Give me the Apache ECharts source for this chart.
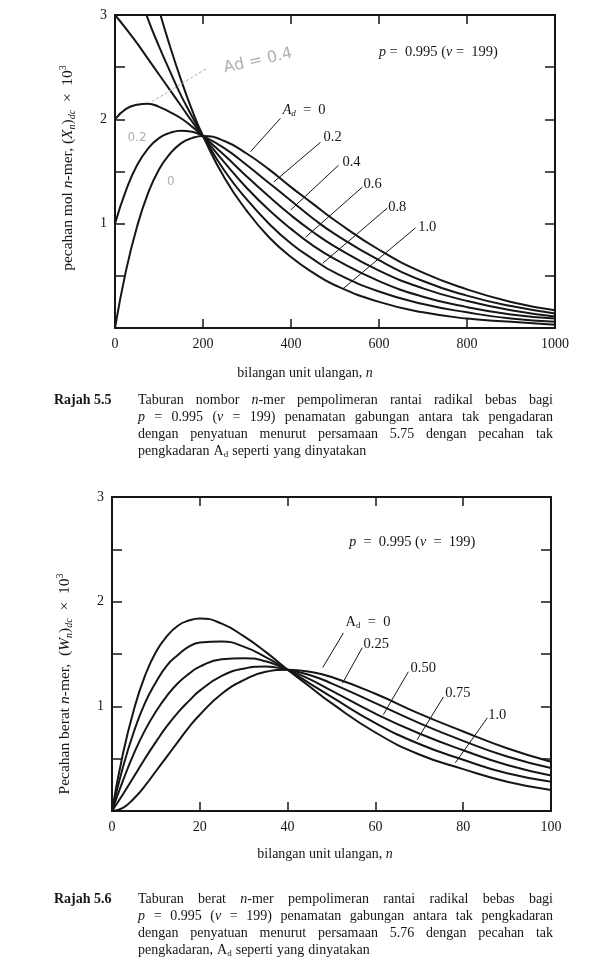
<!DOCTYPE html>
<html><head><meta charset="utf-8">
<script src="https://cdn.jsdelivr.net/npm/echarts@6/dist/echarts.min.js"></script>
<style>html,body{margin:0;padding:0;background:#fff}#c{width:600px;height:978px}</style>
</head><body><div id="c"></div>
<script>
// ---------- DATA ----------
// Rajah 5.5 : number fraction (X_n)dc x 10^3 vs n
const topN = [0,25,50,75,100,125,150,175,200,250,300,350,400,450,500,600,700,800,900,1000];
const topAd00 = [0,0.55,0.97,1.29,1.52,1.67,1.77,1.82,1.84,1.79,1.67,1.52,1.35,1.19,1.03,0.75,0.53,0.37,0.25,0.17];
const topAd02 = [1.00,1.32,1.56,1.72,1.82,1.87,1.89,1.88,1.84,1.72,1.56,1.39,1.22,1.05,0.90,0.65,0.45,0.31,0.21,0.14];
const topAd04 = [2.00,2.10,2.14,2.15,2.12,2.07,2.01,1.93,1.84,1.65,1.45,1.26,1.08,0.92,0.78,0.55,0.38,0.26,0.17,0.11];
const topAd06 = [3.00,2.87,2.73,2.58,2.43,2.28,2.13,1.98,1.84,1.58,1.34,1.13,0.95,0.79,0.66,0.45,0.30,0.20,0.13,0.09];
const topAd08 = [4.00,3.60,3.27,2.96,2.70,2.46,2.23,2.03,1.84,1.50,1.23,1.00,0.81,0.66,0.53,0.35,0.23,0.15,0.09,0.06];
const topAd10 = [5.00,4.41,3.89,3.44,3.05,2.70,2.38,2.09,1.84,1.43,1.12,0.87,0.68,0.53,0.41,0.25,0.15,0.09,0.06,0.03];
const topSeries = [topAd00, topAd02, topAd04, topAd06, topAd08, topAd10];
const topLabels = ['0', '0.2', '0.4', '0.6', '0.8', '1.0'];
const topYTicks = [1, 2, 3];

// Rajah 5.6 : weight fraction (W_n)dc x 10^3 vs n
const botX = [0,2.5,5,7.5,10,12.5,15,17.5,20,25,30,35,40,45,50,60,70,80,90,100];
const botAd000 = [0,0.03,0.12,0.24,0.38,0.52,0.66,0.80,0.92,1.12,1.25,1.33,1.35,1.33,1.28,1.12,0.93,0.76,0.60,0.47];
const botAd025 = [0,0.16,0.33,0.50,0.66,0.81,0.94,1.05,1.15,1.29,1.36,1.38,1.35,1.30,1.22,1.03,0.84,0.67,0.52,0.41];
const botAd050 = [0,0.29,0.55,0.77,0.95,1.10,1.22,1.31,1.38,1.45,1.46,1.43,1.35,1.26,1.15,0.93,0.74,0.58,0.44,0.34];
const botAd075 = [0,0.42,0.76,1.03,1.23,1.39,1.49,1.57,1.61,1.62,1.57,1.47,1.35,1.22,1.09,0.84,0.64,0.49,0.36,0.28];
const botAd100 = [0,0.55,0.97,1.29,1.52,1.67,1.77,1.82,1.84,1.79,1.67,1.52,1.35,1.19,1.03,0.75,0.54,0.40,0.28,0.20];
const botSeries = [botAd000, botAd025, botAd050, botAd075, botAd100];
const botLabels = ['0', '0.25', '0.50', '0.75', '1.0'];
const botYTicks = [1, 2, 3];

// annotation anchors in data units: [x1,y1,x2,y2] leader, [x,y] label
const topLeaders = [[308,1.69,376,2.01],[361,1.40,467,1.78],[399,1.13,508,1.56],[433,0.87,562,1.35],[472,0.62,619,1.15],[519,0.38,683,0.96]];
const topLabelAt = [[381,2.09],[474,1.83],[517,1.59],[565,1.38],[621,1.16],[689,0.97]];
const botLeaders = [[48.0,1.37,52.7,1.70],[52.5,1.22,57.0,1.56],[61.8,0.92,67.5,1.33],[69.5,0.68,75.5,1.09],[78.2,0.46,85.5,0.89]];
const botLabelAt = [[53.2,1.80],[57.3,1.59],[68.0,1.36],[75.9,1.13],[85.7,0.92]];

// ---------- STYLE ----------
const SERIF = '"Liberation Serif", "DejaVu Serif", serif';
const INK = '#161616';
const RICH = {
  i:   {fontStyle:'italic', fontFamily:SERIF, fontSize:14, fill:INK, lineHeight:18},
  sub: {fontFamily:SERIF, fontSize:9, fill:INK, verticalAlign:'bottom', lineHeight:18, padding:[0,0,1,0]},
  isub:{fontFamily:SERIF, fontStyle:'italic', fontSize:9, fill:INK, verticalAlign:'bottom', lineHeight:18, padding:[0,0,1,0]},
  sup: {fontFamily:SERIF, fontSize:9, fill:INK, verticalAlign:'top', lineHeight:18},
  b:   {fontFamily:SERIF, fontWeight:'bold', fontSize:14, fill:INK, lineHeight:18}
};
const RICH_BIG = {
  i:   {fontStyle:'italic', fontFamily:SERIF, fontSize:15.5, fill:INK, lineHeight:20},
  isub:{fontFamily:SERIF, fontStyle:'italic', fontSize:10, fill:INK, verticalAlign:'bottom', lineHeight:20, padding:[0,0,1,0]},
  sup: {fontFamily:SERIF, fontSize:10, fill:INK, verticalAlign:'top', lineHeight:20}
};
const BASE = {fontFamily:SERIF, fontSize:14, fontStyle:'normal', fontWeight:'normal'};

const chart = echarts.init(document.getElementById('c'), null, {renderer:'canvas'});

function xAxes(gi, max, interval) {
  const common = {
    type:'value', gridIndex:gi, min:0, max:max, interval:interval,
    axisLine:{show:true, onZero:false, lineStyle:{color:INK, width:2}},
    axisTick:{show:true, inside:true, length:9, lineStyle:{color:INK, width:1.5}},
    splitLine:{show:false}
  };
  return [
    Object.assign({}, common, {position:'bottom',
      axisLabel:{margin:9, color:INK, fontFamily:SERIF, fontSize:14, formatter: v => String(v)}}),
    Object.assign({}, common, {position:'top', axisLabel:{show:false}})
  ];
}
function yAxes(gi, ticks) {
  const common = {
    type:'value', gridIndex:gi, min:0, max:3, interval:0.5,
    axisLine:{show:true, onZero:false, lineStyle:{color:INK, width:2}},
    axisTick:{show:true, inside:true, length:10, lineStyle:{color:INK, width:1.5}},
    splitLine:{show:false}
  };
  return [
    Object.assign({}, common, {position:'left',
      axisLabel:{margin:8, color:INK, fontFamily:SERIF, fontSize:14,
        formatter: v => ticks.indexOf(v) >= 0 ? String(v) : ''}}),
    Object.assign({}, common, {position:'right', axisLabel:{show:false}})
  ];
}
function curves(arrs, xs, xi, yi, names) {
  return arrs.map((a, k) => ({
    type:'line', name:'Ad = ' + names[k], xAxisIndex:xi, yAxisIndex:yi,
    data: xs.map((x, i) => [x, a[i]]),
    symbol:'none', smooth:0.5, clip:true,
    lineStyle:{color:INK, width:2}, silent:true
  }));
}

const xa = xAxes(0, 1000, 200).concat(xAxes(1, 100, 20));
const ya = yAxes(0, topYTicks).concat(yAxes(1, botYTicks));

chart.setOption({
  animation:false,
  backgroundColor:'#ffffff',
  grid:[
    {left:115, top:15, width:440, height:313, outerBoundsMode:'none'},
    {left:112, top:497, width:439, height:314, outerBoundsMode:'none'}
  ],
  xAxis: xa,
  yAxis: ya,
  series: curves(topSeries, topN, 0, 0, topLabels).concat(curves(botSeries, botX, 2, 2, botLabels))
});

// ---------- annotations ----------
const measureCtx = document.createElement('canvas').getContext('2d');
function measureRich(str, base) {
  let w = 0; const re = /\{(\w+)\|([^}]*)\}|([^{]+)/g; let m;
  while ((m = re.exec(str))) {
    const st = m[1] ? Object.assign({}, base, RICH[m[1]]) : base;
    measureCtx.font = (st.fontStyle||'normal') + ' ' + (st.fontWeight||'normal') + ' ' + st.fontSize + 'px ' + st.fontFamily;
    w += measureCtx.measureText(m[1] ? m[2] : m[3]).width;
  }
  return w;
}
function txt(x, y, text, extra) {
  return {type:'text', x:x, y:y, silent:true, z:100,
    style:Object.assign({text:text, fill:INK, fontFamily:SERIF, fontSize:14,
      align:'left', verticalAlign:'middle', rich:RICH}, extra || {})};
}
const g = [];
const P0 = v => chart.convertToPixel({seriesIndex:0}, v);
const P1 = v => chart.convertToPixel({seriesIndex:topSeries.length}, v);

topLeaders.forEach(l => {
  const a = P0([l[0], l[1]]), b = P0([l[2], l[3]]);
  g.push({type:'line', silent:true, z:90, shape:{x1:a[0],y1:a[1],x2:b[0],y2:b[1]}, style:{stroke:INK, lineWidth:1}});
});
topLabelAt.forEach((p, k) => {
  const q = P0(p);
  g.push(txt(q[0], q[1], k === 0 ? '{i|A}{isub|d}  =  0' : topLabels[k], {fontSize:14.5}));
});
botLeaders.forEach(l => {
  const a = P1([l[0], l[1]]), b = P1([l[2], l[3]]);
  g.push({type:'line', silent:true, z:90, shape:{x1:a[0],y1:a[1],x2:b[0],y2:b[1]}, style:{stroke:INK, lineWidth:1}});
});
botLabelAt.forEach((p, k) => {
  const q = P1(p);
  g.push(txt(q[0], q[1], k === 0 ? 'A{sub|d}  =  0' : botLabels[k], {fontSize:14.5}));
});
// p labels
let q = P0([735, 2.64]);
g.push(txt(q[0], q[1], '{i|p} =  0.995 ({i|v} =  199)', {align:'center', fontSize:14.5}));
q = P1([68.4, 2.57]);
g.push(txt(q[0], q[1], '{i|p}  =  0.995 ({i|v}  =  199)', {align:'center', fontSize:14.5}));

// faint pencil notes on the top figure
const PENCIL = '#b0b0b0';
let a = P0([84, 2.17]), b = P0([209, 2.49]);
g.push({type:'line', silent:true, z:80, shape:{x1:a[0],y1:a[1],x2:b[0],y2:b[1]}, style:{stroke:PENCIL, lineWidth:1, lineDash:[3,2]}});
q = P0([325, 2.56]);
g.push({type:'text', x:q[0], y:q[1], rotation:0.22, silent:true, z:80,
  style:{text:'Ad = 0.4', fill:PENCIL, fontFamily:'"DejaVu Sans", sans-serif', fontSize:16, align:'center', verticalAlign:'middle'}});
q = P0([50, 1.82]);
g.push(txt(q[0], q[1], '0.2', {fill:PENCIL, fontFamily:'"DejaVu Sans", sans-serif', fontSize:12, align:'center', rich:{}}));
q = P0([127, 1.40]);
g.push(txt(q[0], q[1], '0', {fill:PENCIL, fontFamily:'"DejaVu Sans", sans-serif', fontSize:12, align:'center', rich:{}}));

// axis titles
g.push({type:'text', x:68, y:168, rotation:Math.PI/2, silent:true,
  style:{text:'pecahan mol {i|n}-mer, ({i|X}{isub|n}){isub|dc}  ×  10{sup|3}', fill:INK, fontFamily:SERIF, fontSize:15.5,
    align:'center', verticalAlign:'middle', rich:RICH_BIG}});
g.push({type:'text', x:65, y:684, rotation:Math.PI/2, silent:true,
  style:{text:'Pecahan berat {i|n}-mer,  ({i|W}{isub|n}){isub|dc}  ×  10{sup|3}', fill:INK, fontFamily:SERIF, fontSize:15.5,
    align:'center', verticalAlign:'middle', rich:RICH_BIG}});
g.push(txt(305, 373, 'bilangan unit ulangan, {i|n}', {align:'center'}));
g.push(txt(325, 854, 'bilangan unit ulangan, {i|n}', {align:'center'}));

// captions (justified like the printed page)
const captionTop = {label:'Rajah 5.5', y:400, lines:[
  ['Taburan nombor {i|n}-mer pempolimeran rantai radikal bebas bagi', true],
  ['{i|p} = 0.995 ({i|v} = 199) penamatan gabungan antara tak pengadaran', true],
  ['dengan penyatuan menurut persamaan 5.75 dengan pecahan tak', true],
  ['pengkadaran A{sub|d}  seperti yang dinyatakan', false]
]};
const captionBot = {label:'Rajah 5.6', y:899, lines:[
  ['Taburan berat {i|n}-mer pempolimeran rantai radikal bebas bagi', true],
  ['{i|p} = 0.995 ({i|v} = 199) penamatan gabungan antara tak pengkadaran', true],
  ['dengan penyatuan menurut persamaan 5.76 dengan pecahan tak', true],
  ['pengkadaran, A{sub|d} seperti yang dinyatakan', false]
]};
function caption(c) {
  g.push(txt(54, c.y, '{b|' + c.label + '}'));
  const X0 = 138, X1 = 553, LH = 17;
  const spaceW = measureRich(' ', BASE);
  c.lines.forEach((ln, i) => {
    const words = ln[0].split(/ +/);
    const ws = words.map(w => measureRich(w, BASE));
    const total = ws.reduce((s, v) => s + v, 0);
    const gap = ln[1] ? (X1 - X0 - total) / (words.length - 1) : spaceW * 1.15;
    let x = X0;
    words.forEach((w, k) => { g.push(txt(x, c.y + i * LH, w)); x += ws[k] + gap; });
  });
}
caption(captionTop);
caption(captionBot);

chart.setOption({graphic: g});
</script></body></html>
